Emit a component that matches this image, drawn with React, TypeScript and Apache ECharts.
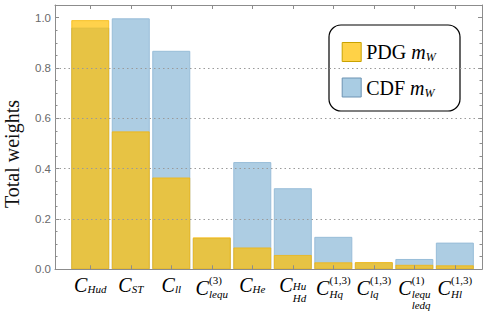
import React, { useEffect, useRef } from "react";
import * as echarts from "echarts";

// x-axis category labels (rich-text markup for sub/superscripts)
const categories = [
  "{c|C}{s|Hud}",
  "{c|C}{s|ST}",
  "{c|C}{s|ll}",
  "{w|}{p|(3)}\n{c2|C}{s2|lequ}",
  "{c|C}{s|He}",
  "{c|C}{s3|Hu}\n{w|}{s4|Hd}",
  "{w|}{p|(1,3)}\n{c2|C}{s2|Hq}",
  "{w|}{p|(1,3)}\n{c2|C}{s2|lq}",
  "{w|}{p|(1)}\n{c2|C}{s2|lequ}\n{w|}{s5|ledq}",
  "{w|}{p|(1,3)}\n{c2|C}{s2|Hl}",
];
const pdgWeights = [0.99, 0.548, 0.365, 0.127, 0.087, 0.057, 0.028, 0.029, 0.018, 0.016];
const cdfWeights = [0.96, 0.997, 0.868, 0.124, 0.426, 0.322, 0.129, 0.027, 0.041, 0.106];
const seriesNames = ["PDG", "CDF"];
const yTickLabels = [0, 0.2, 0.4, 0.6, 0.8, 1.0];
const gridLineValues = [0.2, 0.4, 0.6, 0.8];
const yTitle = "Total weights";
const categoryPositions = categories.map((_, i) => i);

const SERIF = "Liberation Serif";
const SANS = "Liberation Sans";
const FRAME = "#8c8c8c";

function tok(fontSize: number, italic: boolean, top: number, width?: number) {
  const t: any = {
    fontFamily: SERIF,
    fontStyle: italic ? "italic" : "normal",
    fontSize,
    lineHeight: 1,
    verticalAlign: "top",
    align: "left",
    padding: [top, 0, 0, 0],
    color: "#000",
  };
  if (width != null) t.width = width;
  return t;
}

const richX: any = {
  c: tok(20, true, 2, 13.5),
  s: tok(11, true, 10.5),
  p: tok(11, false, 1),
  c2: tok(20, true, 3.5, 13.5),
  s2: tok(11, true, 14),
  s3: tok(11, true, 7.5),
  s4: tok(11, true, 18),
  s5: tok(11, true, 24),
  w: { width: 13.5, lineHeight: 1, verticalAlign: "top", align: "left" },
};

const axisCommon = {
  axisLine: { show: true, onZero: false, lineStyle: { color: FRAME, width: 1 } },
  splitLine: { show: false },
  z: 4,
};

export default function App() {
  const ref = useRef<HTMLDivElement>(null);
  useEffect(() => {
    if (!ref.current) return;
    const chart = echarts.init(ref.current, null, { renderer: "svg" });
    const option: any = {
      animation: false,
      grid: { left: 55, right: 2, top: 5, bottom: 43.7, containLabel: false, outerBoundsMode: "none" },
      xAxis: [
        {
          type: "value",
          position: "bottom",
          min: -0.87,
          max: 9.67,
          ...axisCommon,
          axisTick: {
            show: true,
            inside: true,
            length: 4,
            customValues: categoryPositions,
            lineStyle: { color: FRAME },
          },
          axisLabel: {
            show: true,
            customValues: categoryPositions,
            margin: 4,
            formatter: (v: number) => categories[Math.round(v)],
            rich: richX,
          },
        },
        {
          type: "value",
          position: "top",
          min: -0.87,
          max: 9.67,
          ...axisCommon,
          axisTick: {
            show: true,
            inside: true,
            length: 4,
            customValues: categoryPositions,
            lineStyle: { color: FRAME },
          },
          axisLabel: { show: false },
        },
      ],
      yAxis: [
        {
          type: "value",
          position: "left",
          min: 0,
          max: 1.05,
          interval: 0.2,
          ...axisCommon,
          axisTick: {
            show: true,
            inside: true,
            length: 4,
            customValues: yTickLabels,
            lineStyle: { color: FRAME },
          },
          axisLabel: {
            show: true,
            customValues: yTickLabels,
            margin: 4,
            formatter: (v: number) => v.toFixed(1),
            fontFamily: SANS,
            fontSize: 11.5,
            color: "#6a6a6a",
          },
        },
        {
          type: "value",
          position: "right",
          min: 0,
          max: 1.05,
          interval: 0.2,
          ...axisCommon,
          axisTick: {
            show: true,
            inside: true,
            length: 4,
            customValues: yTickLabels,
            lineStyle: { color: FRAME },
          },
          axisLabel: { show: false },
        },
        {
          type: "value",
          position: "left",
          min: 0,
          max: 1.05,
          interval: 0.05,
          axisLine: { show: false, onZero: false },
          splitLine: { show: false },
          axisTick: { show: true, inside: true, length: 2.5, lineStyle: { color: FRAME } },
          axisLabel: { show: false },
          z: 4,
        },
        {
          type: "value",
          position: "right",
          min: 0,
          max: 1.05,
          interval: 0.05,
          axisLine: { show: false, onZero: false },
          splitLine: { show: false },
          axisTick: { show: true, inside: true, length: 2.5, lineStyle: { color: FRAME } },
          axisLabel: { show: false },
          z: 4,
        },
      ],
      legend: {
        orient: "vertical",
        left: 341.7,
        top: 41,
        padding: 0,
        itemWidth: 19,
        itemHeight: 19,
        itemGap: 13.5,
        icon: "rect",
        z: 6,
        data: [
          {
            name: seriesNames[0],
            itemStyle: { color: "#FFD247", borderColor: "#C9A200", borderWidth: 1, opacity: 1 },
          },
          {
            name: seriesNames[1],
            itemStyle: { color: "#A9CCE3", borderColor: "#6C93B3", borderWidth: 1, opacity: 1 },
          },
        ],
        formatter: (name: string) => `${name} {m|m}{ws|W}`,
        textStyle: {
          fontFamily: SERIF,
          fontSize: 20,
          color: "#000",
          lineHeight: 20,
          rich: {
            m: { fontFamily: SERIF, fontStyle: "italic", fontSize: 20, lineHeight: 20, color: "#000", verticalAlign: "middle" },
            ws: {
              fontFamily: SERIF,
              fontStyle: "italic",
              fontSize: 12,
              lineHeight: 20,
              color: "#000",
              verticalAlign: "middle",
              padding: [10, 0, 0, 0],
            },
          },
        },
      },
      graphic: [
        {
          type: "rect",
          z: 5,
          shape: { x: 329, y: 25, width: 131, height: 86, r: 12 },
          style: { fill: "#fff", stroke: "#000", lineWidth: 1.2 },
        },
        {
          type: "text",
          z: 5,
          x: 12,
          y: 154,
          rotation: Math.PI / 2,
          style: {
            text: yTitle,
            fontFamily: SERIF,
            fontSize: 20,
            fill: "#111",
            align: "center",
            verticalAlign: "middle",
          },
        },
      ],
      series: [
        {
          name: seriesNames[1],
          type: "bar",
          xAxisIndex: 0,
          yAxisIndex: 0,
          data: cdfWeights.map((v, i) => [i, v]),
          barWidth: 38,
          barGap: "-100%",
          itemStyle: { color: "#ADCDE3", borderColor: "#98BDD8", borderWidth: 1 },
          z: 2,
        },
        {
          name: seriesNames[0],
          type: "bar",
          xAxisIndex: 0,
          yAxisIndex: 0,
          data: pdgWeights.map((v, i) => [i, v]),
          barWidth: 38,
          barGap: "-100%",
          itemStyle: { color: "rgb(255,191,0)", opacity: 0.7, borderColor: "rgb(245,180,0)", borderWidth: 1 },
          z: 3,
          markLine: {
            silent: true,
            symbol: ["none", "none"],
            label: { show: false },
            lineStyle: { color: "#9a9a9a", type: [1.5, 3], width: 1, opacity: 1 },
            data: gridLineValues.map((v) => ({ yAxis: v })),
          },
        },
      ],
    };
    chart.setOption(option);
    return () => chart.dispose();
  }, []);
  return (
    <div
      ref={ref}
      style={{ position: "absolute", left: 0, top: 0, width: 484, height: 313, background: "#fff" }}
    />
  );
}
